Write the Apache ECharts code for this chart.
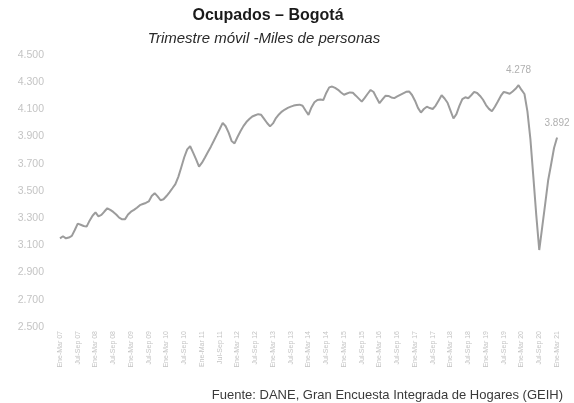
<!DOCTYPE html>
<html>
<head>
<meta charset="utf-8">
<script src="https://cdn.jsdelivr.net/npm/echarts@6/dist/echarts.min.js"></script>
<style>
  html, body { margin: 0; padding: 0; background: #fff; }
  #chart { width: 574px; height: 403px; }
</style>
</head>
<body>
<div id="chart"></div>
<script>
// Rolling-quarter labels (trimestre móvil) and the years covered
const periodos = ['Ene-Mar', 'Feb-Abr', 'Mar-May', 'Abr-Jun', 'May-Jul', 'Jun-Ago',
                  'Jul-Sep', 'Ago-Oct', 'Sep-Nov', 'Oct-Dic', 'Nov-Ene', 'Dic-Feb'];
const anios = ['07', '08', '09', '10', '11', '12', '13', '14', '15', '16', '17', '18', '19', '20', '21'];

// Employed people in Bogotá, thousands
const ocupados = [
  3152, 3167, 3152, 3158, 3170, 3213, 3260, 3252, 3243, 3238, 3282, 3318,
  3343, 3314, 3324, 3349, 3373, 3361, 3346, 3327, 3304, 3292, 3293, 3327,
  3348, 3361, 3377, 3396, 3404, 3412, 3423, 3463, 3484, 3460, 3432, 3439,
  3463, 3490, 3520, 3551, 3604, 3675, 3748, 3806, 3829, 3782, 3732, 3679,
  3708, 3746, 3787, 3826, 3869, 3913, 3956, 4001, 3976, 3929, 3868, 3850,
  3897, 3939, 3977, 4007, 4029, 4048, 4057, 4065, 4060, 4030, 4000, 3975,
  3997, 4036, 4063, 4084, 4099, 4111, 4120, 4128, 4133, 4135, 4127, 4092,
  4060, 4114, 4152, 4169, 4173, 4169, 4221, 4262, 4268, 4258, 4244, 4224,
  4208, 4217, 4225, 4222, 4201, 4179, 4157, 4185, 4215, 4243, 4228, 4185,
  4146, 4173, 4200, 4199, 4188, 4183, 4195, 4207, 4218, 4229, 4232, 4206,
  4164, 4111, 4077, 4103, 4120, 4110, 4103, 4128, 4166, 4204, 4180, 4149,
  4091, 4033, 4065, 4126, 4176, 4189, 4182, 4204, 4229, 4221, 4199, 4171,
  4132, 4104, 4086, 4120, 4158, 4199, 4229, 4222, 4215, 4232, 4251, 4278,
  4243, 4213, 4085, 3884, 3606, 3321, 3066, 3235, 3404, 3577, 3695, 3816,
  3892
];

// Points whose value is written on the chart
const etiquetados = [155, 168];

// Value axis ticks
const yMin = 2500, yMax = 4500, yPaso = 200;

// Category names: one per rolling quarter, in order
const categorias = [];
for (const a of anios) {
  for (const p of periodos) {
    if (categorias.length < ocupados.length) categorias.push(p + ' ' + a);
  }
}

const fmtMiles = v => String(v).replace(/\B(?=(\d{3})+(?!\d))/g, '.');

const chart = echarts.init(document.getElementById('chart'), null, { renderer: 'canvas' });
chart.setOption({
  backgroundColor: '#ffffff',
  animation: false,
  title: [
    { text: 'Ocupados – Bogotá', left: 263, top: 3, textAlign: 'center',
      textStyle: { fontFamily: 'Liberation Sans', fontSize: 16, fontWeight: 'bold', color: '#1a1a1a' } },
    { text: 'Trimestre móvil -Miles de personas', left: 259, top: 26, textAlign: 'center',
      textStyle: { fontFamily: 'Liberation Sans', fontSize: 15, fontStyle: 'italic', fontWeight: 'normal', color: '#2a2a2a' } },
    { text: 'Fuente: DANE, Gran Encuesta Integrada de Hogares (GEIH)', right: 6, top: 384,
      textStyle: { fontFamily: 'Liberation Sans', fontSize: 13, fontWeight: 'normal', color: '#3a3a3a' } }
  ],
  grid: { left: 60, right: 17, top: 55, bottom: 76, containLabel: false },
  xAxis: {
    type: 'category',
    data: categorias,
    boundaryGap: false,
    axisLine: { show: false },
    axisTick: { show: false },
    axisLabel: { interval: 5, rotate: 90, fontSize: 7, color: '#c4c4c4', margin: 4,
      fontFamily: 'Liberation Sans' }
  },
  yAxis: {
    type: 'value',
    min: yMin, max: yMax, interval: yPaso,
    splitLine: { show: false },
    axisLine: { show: false },
    axisTick: { show: false },
    axisLabel: { color: '#c4c4c4', fontSize: 10.5, margin: 16, fontFamily: 'Liberation Sans',
      formatter: v => fmtMiles(v) }
  },
  series: [{
    type: 'line',
    data: ocupados,
    showSymbol: false,
    symbol: 'none',
    lineStyle: { color: '#9c9c9c', width: 2 },
    markPoint: {
      symbol: 'circle',
      symbolSize: 1,
      itemStyle: { color: '#9c9c9c' },
      label: { show: true, position: 'top', distance: 9, color: '#b0b0b0', fontSize: 10,
        fontFamily: 'Liberation Sans', formatter: p => fmtMiles(p.value) },
      data: etiquetados.map(i => ({ coord: [i, ocupados[i]], value: ocupados[i] }))
    }
  }]
});
</script>
</body>
</html>
